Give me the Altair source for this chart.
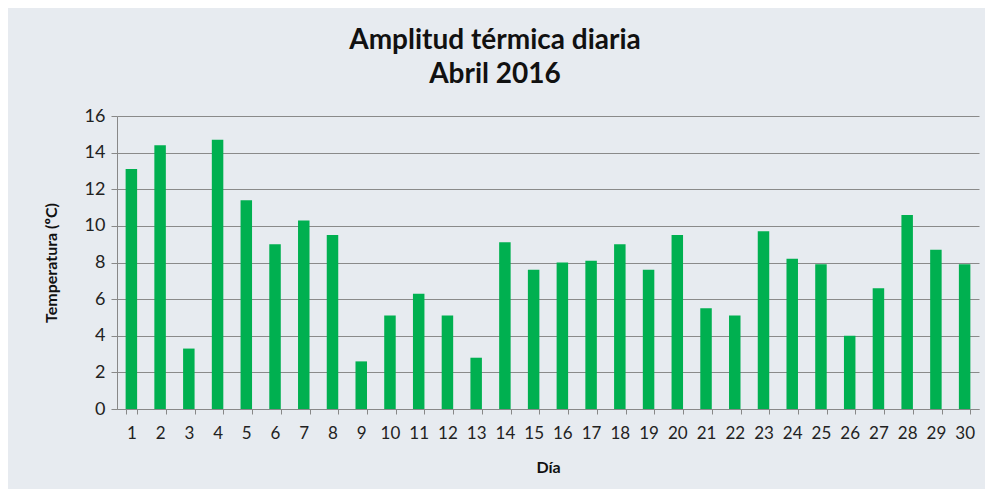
import altair as alt
import pandas as pd

dias = list(range(1, 31))
amplitud = [13.1, 14.4, 3.3, 14.7, 11.4, 9.0, 10.3, 9.5, 2.6, 5.1,
            6.3, 5.1, 2.8, 9.1, 7.6, 8.0, 8.1, 9.0, 7.6, 9.5,
            5.5, 5.1, 9.7, 8.2, 7.9, 4.0, 6.6, 10.6, 8.7, 7.9]
titulo = ["Amplitud térmica diaria", "Abril 2016"]
y_ticks = [0, 2, 4, 6, 8, 10, 12, 14, 16]

df = pd.DataFrame({"dia": dias, "amp": amplitud})

FONT = "Lato"

chart = alt.Chart(df).mark_bar(color="#00B050").encode(
    x=alt.X("dia:O", title="Día",
            scale=alt.Scale(paddingInner=0.6, paddingOuter=0.3),
            axis=alt.Axis(labelAngle=0, tickBand="extent", labelFontSize=17,
                          labelColor="#222222", labelPadding=11, tickSize=5,
                          tickColor="#888888", domainColor="#888888",
                          titleFontSize=16, titleFontWeight="bold", titleColor="#111111",
                          titlePadding=18, labelFont=FONT, titleFont=FONT)),
    y=alt.Y("amp:Q", title="Temperatura (ºC)",
            scale=alt.Scale(domain=[0, 16], nice=False),
            axis=alt.Axis(values=y_ticks, labelFontSize=18, labelColor="#222222",
                          tickSize=6, tickColor="#888888", domainColor="#888888",
                          gridColor="#8a8a8a", gridOpacity=1, labelPadding=6,
                          titleFontSize=16, titleFontWeight="bold", titleColor="#111111",
                          titlePadding=25, labelFont=FONT, titleFont=FONT)),
).properties(
    width=862, height=293,
    title=alt.TitleParams(text=titulo, fontSize=28, fontWeight="bold", font=FONT,
                          color="#111111", anchor="middle", dx=-53, offset=18,
                          lineHeight=34),
    autosize=alt.AutoSizeParams(type="none"),
    padding={"left": 109, "top": 108, "right": 6, "bottom": 80},
    background="#e7ebf0",
).configure_view(stroke=None)

chart.save("out.html", embed_options={"renderer": "svg", "actions": False})
